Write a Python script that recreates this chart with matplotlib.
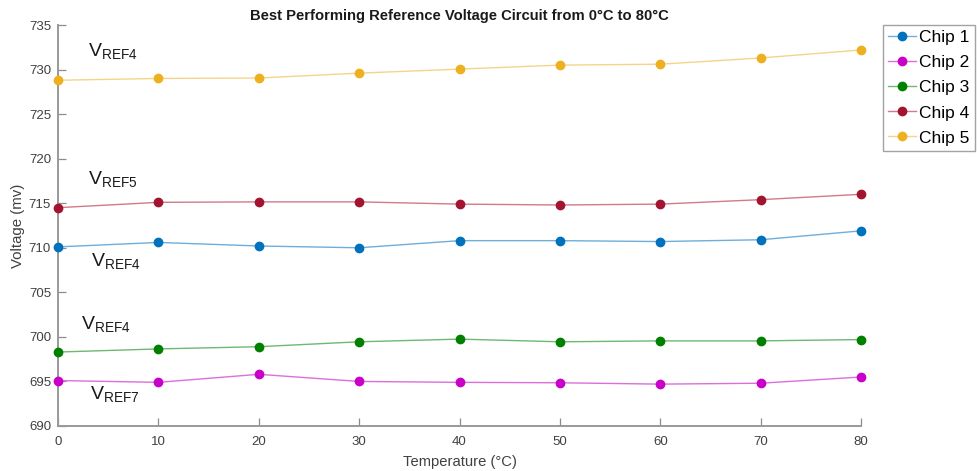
import matplotlib
matplotlib.use("Agg")
import matplotlib.pyplot as plt

plt.rcParams['font.family'] = ['Liberation Sans', 'DejaVu Sans']
plt.rcParams['mathtext.fontset'] = 'custom'
plt.rcParams['mathtext.rm'] = 'Liberation Sans'

temperature = [0, 10, 20, 30, 40, 50, 60, 70, 80]
chip1 = [710.1, 710.6, 710.2, 710.0, 710.8, 710.8, 710.7, 710.9, 711.9]
chip2 = [695.1, 694.9, 695.8, 695.0, 694.9, 694.85, 694.7, 694.8, 695.5]
chip3 = [698.3, 698.65, 698.9, 699.45, 699.75, 699.45, 699.55, 699.55, 699.7]
chip4 = [714.5, 715.1, 715.15, 715.15, 714.9, 714.8, 714.9, 715.4, 716.0]
chip5 = [728.8, 729.0, 729.05, 729.6, 730.05, 730.5, 730.6, 731.3, 732.2]

series_names = ["Chip 1", "Chip 2", "Chip 3", "Chip 4", "Chip 5"]
series_values = [chip1, chip2, chip3, chip4, chip5]
marker_colors = ["#0072BD", "#C800C8", "#008000", "#A2142F", "#EDB120"]
line_colors = ["#6FAEDC", "#DC6FDC", "#6FB86F", "#D07A8A", "#F4D48A"]

# reference labels placed next to each curve
ref_labels = ["REF4", "REF5", "REF4", "REF4", "REF7"]
ref_x = [3.0, 3.0, 3.3, 2.3, 3.2]
ref_y = [731.4, 717.1, 707.9, 700.8, 692.9]

xticks = [0, 10, 20, 30, 40, 50, 60, 70, 80]
yticks = [690, 695, 700, 705, 710, 715, 720, 725, 730, 735]

fig = plt.figure(figsize=(9.77, 4.71), dpi=100)
ax = fig.add_axes([58 / 977, 1 - 426 / 471, (861 - 58) / 977, (426 - 25) / 471])

for name, vals, mc, lc in zip(series_names, series_values, marker_colors, line_colors):
    ax.plot(temperature, vals, color=lc, lw=1.0, marker='o', markersize=6,
            markerfacecolor=mc, markeredgecolor=mc, label=name, clip_on=False, zorder=3)

for lab, x, y in zip(ref_labels, ref_x, ref_y):
    ax.text(x, y, r"V$_{\mathrm{" + lab + "}}$", fontsize=14, color="#1a1a1a",
            ha='left', va='baseline')

ax.set_xlim(0, 80)
ax.set_ylim(690, 735)
ax.set_xticks(xticks)
ax.set_yticks(yticks)

for side in ['top', 'right']:
    ax.spines[side].set_visible(False)
for side in ['left', 'bottom']:
    ax.spines[side].set_color('#999999')
    ax.spines[side].set_linewidth(1.4)
ax.tick_params(direction='in', length=6, width=0.9, color='#8c8c8c',
               labelsize=9.5, labelcolor='#404040')
ax.tick_params(axis='x', pad=7)
ax.tick_params(axis='y', pad=5)

ax.set_xlabel("Temperature (°C)", fontsize=10.6, color='#404040', labelpad=5)
ax.set_ylabel("Voltage (mv)", fontsize=10.8, color='#404040', labelpad=3)
ax.set_title("Best Performing Reference Voltage Circuit from 0°C to 80°C",
             fontsize=10.6, fontweight='bold', color='#1a1a1a', pad=3.5)

leg = ax.legend(loc='upper left', bbox_to_anchor=(883 / 977, 1 - 25 / 471),
                bbox_transform=fig.transFigure, fontsize=12.5, frameon=True,
                fancybox=False, handlelength=1.6, handletextpad=0.2,
                borderpad=0.3, labelspacing=0.57, borderaxespad=0)
leg.get_frame().set_edgecolor('#8c8c8c')
leg.get_frame().set_linewidth(1.0)

fig.savefig("out.png", dpi=100)
